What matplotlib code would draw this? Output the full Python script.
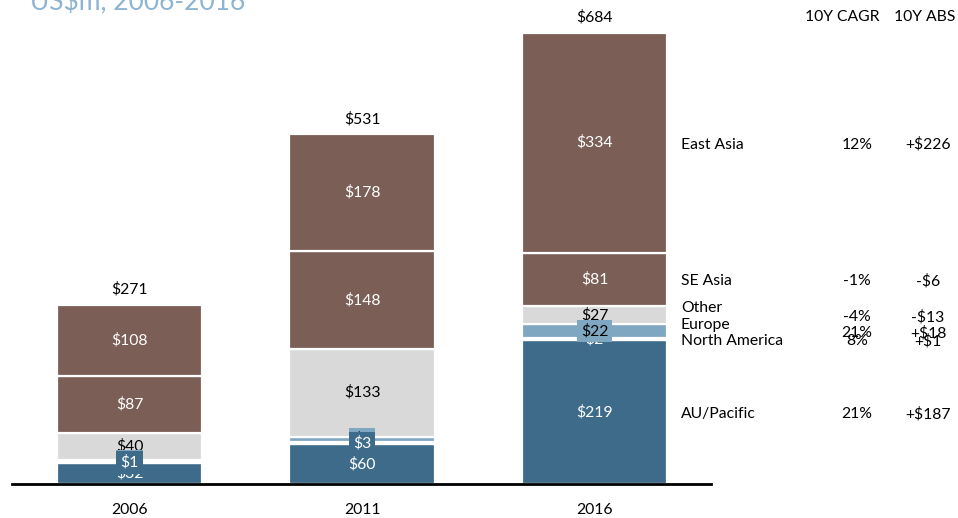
import matplotlib.pyplot as plt
import numpy as np

plt.rcParams['font.family'] = ['Lato', 'DejaVu Sans']
plt.rcParams['font.size'] = 11.3

# data (US$m)
years = ['2006', '2011', '2016']
regions = ['AU/Pacific', 'North America', 'Europe', 'Other', 'SE Asia', 'East Asia']
au_pacific = [32, 60, 219]
north_america = [1, 3, 2]
europe = [4, 9, 22]
other = [40, 133, 27]
se_asia = [87, 148, 81]
east_asia = [108, 178, 334]
totals = ['$271', '$531', '$684']
cagr = ['21%', '8%', '21%', '-4%', '-1%', '12%']
abs_change = ['+$187', '+$1', '+$18', '-$13', '-$6', '+$226']

colors = ['#3e6b8a', '#3e6b8a', '#7fa7c2', '#d9d9d9', '#7b5e55', '#7b5e55']
text_colors = ['white', 'white', 'black', 'black', 'white', 'white']
boxed = ['North America', 'Europe']
# which small label sits on top in each year
top_label = ['North America', 'North America', 'Europe']

series = [au_pacific, north_america, europe, other, se_asia, east_asia]

fig = plt.figure(figsize=(9.58, 5.18), dpi=100)
ax = fig.add_axes([0, 0, 1, 1])
ax.set_xlim(-0.557, 3.563)
ax.set_ylim(-51.6, 734.4)
ax.axis('off')

x = np.arange(len(years))
bottom = np.zeros(len(years))
centers = {}
for name, vals, col, tcol in zip(regions, series, colors, text_colors):
    vals = np.array(vals, dtype=float)
    ax.bar(x, vals, width=0.624, bottom=bottom, color=col,
           edgecolor='white', linewidth=1.6, zorder=2)
    mid = bottom + vals / 2
    centers[name] = mid
    for i in range(len(years)):
        kw = {}
        z = 4
        if name in boxed:
            kw['bbox'] = dict(boxstyle='square,pad=0.25', facecolor=col, edgecolor='none')
            z = 6 if top_label[i] == name else 5
        ax.text(x[i], mid[i], f'${int(vals[i])}', ha='center', va='center',
                color=tcol, zorder=z, **kw)
    bottom += vals

# totals above bars
for i in range(len(years)):
    ax.annotate(totals[i], (x[i], bottom[i]), xytext=(0, 11), textcoords='offset points',
                ha='center', va='center')

# baseline and year labels
ax.axhline(0, xmin=12 / 958, xmax=711 / 958, color='black', lw=2, zorder=7)
for i, yr in enumerate(years):
    ax.text(x[i], -40, yr, ha='center', va='center')

# right-hand table for the last year
trans = ax.get_yaxis_transform()
prev = -1e9
for name, c, g, a in zip(regions, [centers[r][-1] for r in regions], cagr, abs_change):
    ly = max(c, prev + 25)
    prev = ly
    ax.text(681 / 958, ly - 3, name, transform=trans, ha='left', va='center')
    ax.text(857 / 958, c - 3, g, transform=trans, ha='center', va='center')
    ax.text(928 / 958, c - 3, a, transform=trans, ha='center', va='center')

ax.text(842 / 958, 1 - 17 / 518, '10Y CAGR', transform=ax.transAxes, ha='center', va='center')
ax.text(925 / 958, 1 - 17 / 518, '10Y ABS', transform=ax.transAxes, ha='center', va='center')

# title, mostly above the canvas
fig.text(30 / 958, 1 - 10 / 518, 'US$m, 2006-2016', color='#8db4d0', fontsize=19,
         ha='left', va='baseline')

fig.savefig('out.png', dpi=100)
